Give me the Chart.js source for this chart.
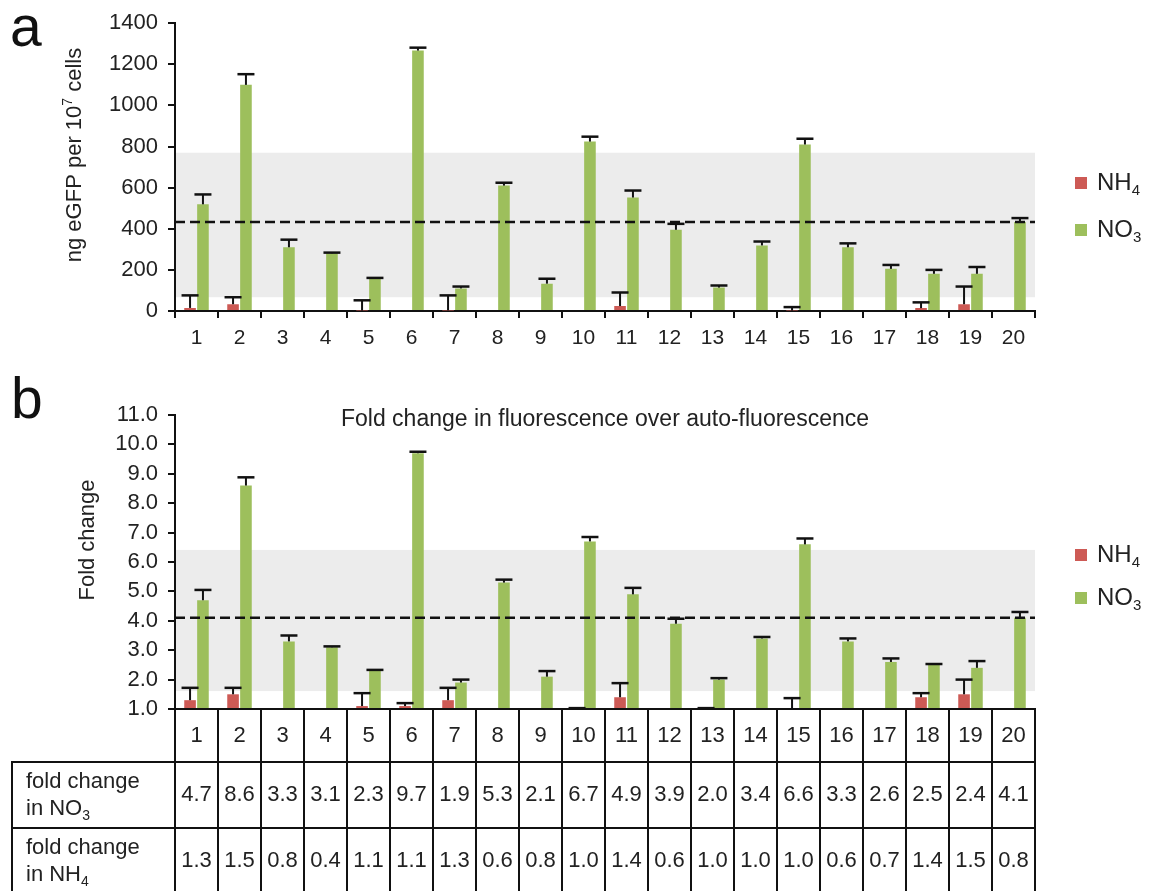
<!DOCTYPE html>
<html>
<head>
<meta charset="utf-8">
<script src="https://cdn.jsdelivr.net/npm/chart.js@4/dist/chart.umd.min.js"></script>
<style>
  html, body { margin: 0; padding: 0; background: #fff; }
  body { position: relative; width: 1151px; height: 891px; overflow: hidden;
         font-family: "Liberation Sans", Arial, sans-serif; }
  canvas { position: absolute; left: 0; }
  #chartA { top: 0; }
  #chartB { top: 365px; }
  .panel { position: absolute; font-size: 57px; line-height: 1; color: #111; }
</style>
</head>
<body>
<div class="panel" style="left:10px; top:-2px;">a</div>
<div class="panel" style="left:11px; top:370px;">b</div>
<canvas id="chartA" width="1151" height="365"></canvas>
<canvas id="chartB" width="1151" height="526"></canvas>

<script>
// ---- data ----
const strains = ['1','2','3','4','5','6','7','8','9','10','11','12','13','14','15','16','17','18','19','20'];

// (a) ng eGFP per 10^7 cells, mean and upper error
const eGFP_NH4     = [15, 33, 0, 0, 2, 0, 3, 0, 0, 0, 24, 0, 0, 0, 2, 0, 0, 14, 33, 0];
const eGFP_NH4_err = [61, 34, null, null, 50, null, 73, null, null, null, 66, null, null, null, 17, null, null, 28, 86, null];
const eGFP_NO3     = [519, 1100, 310, 281, 157, 1267, 110, 610, 133, 824, 552, 395, 114, 319, 810, 310, 205, 181, 181, 433];
const eGFP_NO3_err = [48, 52, 37, 3, 4, 14, 9, 14, 24, 24, 34, 29, 10, 19, 28, 19, 19, 19, 33, 19];
const eGFP_band = [67, 770];   // shaded range
const eGFP_mean = 433;         // dashed reference line

// (b) fold change in fluorescence over auto-fluorescence
const fold_NO3     = [4.7, 8.6, 3.3, 3.1, 2.3, 9.7, 1.9, 5.3, 2.1, 6.7, 4.9, 3.9, 2.0, 3.4, 6.6, 3.3, 2.6, 2.5, 2.4, 4.1];
const fold_NO3_err = [0.35, 0.28, 0.2, 0.03, 0.03, 0.05, 0.1, 0.1, 0.19, 0.15, 0.22, 0.17, 0.05, 0.05, 0.2, 0.1, 0.12, 0.03, 0.23, 0.2];
const fold_NH4     = [1.3, 1.5, 0.8, 0.4, 1.1, 1.1, 1.3, 0.6, 0.8, 1.0, 1.4, 0.6, 1.0, 1.0, 1.0, 0.6, 0.7, 1.4, 1.5, 0.8];
const fold_NH4_err = [0.42, 0.22, null, null, 0.44, 0.1, 0.42, null, null, 0.03, 0.48, null, 0.03, null, 0.37, null, null, 0.14, 0.5, null];
const fold_band = [1.61, 6.41];
const fold_mean = 4.1;

const seriesNames = ['NH4', 'NO3'];
const tableRowLabels = [['fold change', 'in NO3'], ['fold change', 'in NH4']];

// ---- styling ----
const FONT = '"Liberation Sans", Arial, sans-serif';
const RED = '#cd5a55';
const GREEN = '#9dbf5c';
const INK = '#111';
const TEXT = '#222';
const BAND = '#ececec';

Chart.defaults.font.family = FONT;
Chart.defaults.color = TEXT;

// text with a trailing subscript number (NH4, NO3)
function drawChem(ctx, text, x, y, size, align) {
  const m = text.match(/^(.*?)(\d+)$/);
  const base = m ? m[1] : text;
  const sub = m ? m[2] : '';
  const big = size + 'px ' + FONT;
  const small = Math.round(size * 0.62) + 'px ' + FONT;
  ctx.font = big;
  const wb = ctx.measureText(base).width;
  ctx.font = small;
  const ws = ctx.measureText(sub).width;
  const x0 = align === 'center' ? x - (wb + ws) / 2 : x;
  ctx.textAlign = 'left';
  ctx.textBaseline = 'middle';
  ctx.font = big;
  ctx.fillText(base, x0, y);
  if (sub) { ctx.font = small; ctx.fillText(sub, x0 + wb, y + size * 0.33); }
}

// shaded band behind the bars, dashed mean line in front
const bandPlugin = {
  id: 'refBand',
  beforeDatasetsDraw(chart, args, o) {
    const { ctx, chartArea: a, scales: { y } } = chart;
    const top = y.getPixelForValue(o.range[1]);
    const bot = y.getPixelForValue(o.range[0]);
    ctx.save();
    ctx.fillStyle = BAND;
    ctx.fillRect(a.left + 1, top, a.right - a.left - 1, bot - top);
    ctx.restore();
  },
  afterDatasetsDraw(chart, args, o) {
    const { ctx, chartArea: a, scales: { y } } = chart;
    const py = y.getPixelForValue(o.mean);
    ctx.save();
    ctx.strokeStyle = INK;
    ctx.lineWidth = 2.5;
    ctx.setLineDash([10, 5]);
    ctx.beginPath();
    ctx.moveTo(a.left, py);
    ctx.lineTo(a.right, py);
    ctx.stroke();
    ctx.restore();
  }
};

// upper error bars on top of each bar
const errorPlugin = {
  id: 'errorBars',
  afterDatasetsDraw(chart) {
    const { ctx, chartArea: a, scales: { y } } = chart;
    ctx.save();
    ctx.strokeStyle = INK;
    chart.data.datasets.forEach((ds, i) => {
      const meta = chart.getDatasetMeta(i);
      meta.data.forEach((bar, j) => {
        const e = ds.errorPlus ? ds.errorPlus[j] : null;
        const v = ds.data[j];
        if (e == null || v < y.min) return;
        const x = bar.x;
        const y0 = y.getPixelForValue(v);
        const y1 = y.getPixelForValue(v + e);
        ctx.lineWidth = 2;
        ctx.beginPath();
        ctx.moveTo(x, Math.min(y0, a.bottom));
        ctx.lineTo(x, y1);
        ctx.stroke();
        ctx.lineWidth = 2.5;
        ctx.beginPath();
        ctx.moveTo(x - 8.5, y1);
        ctx.lineTo(x + 8.5, y1);
        ctx.stroke();
      });
    });
    ctx.restore();
  }
};

// legend at the right of the plot
const sideLegendPlugin = {
  id: 'sideLegend',
  afterDraw(chart, args, o) {
    const { ctx } = chart;
    ctx.save();
    chart.data.datasets.forEach((ds, i) => {
      const cy = o.y[i];
      ctx.fillStyle = ds.backgroundColor;
      ctx.fillRect(o.x, cy - 6, 12, 12);
      ctx.fillStyle = TEXT;
      drawChem(ctx, ds.label, o.x + 22, cy, o.size, 'left');
    });
    ctx.restore();
  }
};

// rotated value-axis title
const yTitlePlugin = {
  id: 'yTitle',
  afterDraw(chart, args, o) {
    if (!o.parts) return;
    const { ctx } = chart;
    ctx.save();
    ctx.translate(o.x, o.y);
    ctx.rotate(-Math.PI / 2);
    ctx.fillStyle = TEXT;
    ctx.textBaseline = 'middle';
    ctx.textAlign = 'left';
    const big = o.size + 'px ' + FONT;
    const small = Math.round(o.size * 0.62) + 'px ' + FONT;
    let w = 0;
    o.parts.forEach(p => { ctx.font = p.sup ? small : big; w += ctx.measureText(p.t).width; });
    let cx = -w / 2;
    o.parts.forEach(p => {
      ctx.font = p.sup ? small : big;
      ctx.fillText(p.t, cx, p.sup ? -o.size * 0.3 : 0);
      cx += ctx.measureText(p.t).width;
    });
    ctx.restore();
  }
};

// title drawn over the top of the plot area
const innerTitlePlugin = {
  id: 'innerTitle',
  afterDraw(chart, args, o) {
    if (!o.text) return;
    const { ctx, chartArea: a } = chart;
    ctx.save();
    ctx.fillStyle = TEXT;
    ctx.font = o.size + 'px ' + FONT;
    ctx.textAlign = 'center';
    ctx.textBaseline = 'middle';
    ctx.fillText(o.text, (a.left + a.right) / 2, a.top + o.dy);
    ctx.restore();
  }
};

// value table under the category axis
const tablePlugin = {
  id: 'valueTable',
  afterDraw(chart, args, o) {
    if (!o.rows) return;
    const { ctx, chartArea: a, scales: { x } } = chart;
    const n = chart.data.labels.length;
    const step = n > 1 ? x.getPixelForValue(1) - x.getPixelForValue(0) : (a.right - a.left);
    const bounds = [];
    for (let k = 0; k <= n; k++) bounds.push(x.getPixelForValue(0) - step / 2 + k * step);
    const top = a.bottom;
    const rowTops = [top, top + o.heights[0], top + o.heights[0] + o.heights[1]];
    const bottom = chart.height + 4;
    ctx.save();
    ctx.strokeStyle = INK;
    ctx.lineWidth = 2;
    ctx.beginPath();
    bounds.forEach(bx => { ctx.moveTo(bx, top); ctx.lineTo(bx, bottom); });
    ctx.moveTo(o.labelLeft, rowTops[1]); ctx.lineTo(o.labelLeft, bottom);
    ctx.moveTo(bounds[0], top); ctx.lineTo(bounds[n], top);
    ctx.moveTo(o.labelLeft - 1, rowTops[1]); ctx.lineTo(bounds[n] + 1, rowTops[1]);
    ctx.moveTo(o.labelLeft - 1, rowTops[2]); ctx.lineTo(bounds[n] + 1, rowTops[2]);
    ctx.stroke();

    ctx.fillStyle = TEXT;
    ctx.textAlign = 'center';
    ctx.textBaseline = 'middle';
    const h0 = rowTops[0] + o.heights[0] / 2;
    chart.data.labels.forEach((lab, k) => {
      ctx.font = o.size + 'px ' + FONT;
      ctx.textAlign = 'center';
      ctx.fillText(lab, x.getPixelForValue(k), h0);
    });
    o.rows.forEach((row, r) => {
      const cy = rowTops[r + 1] + o.heights[r + 1] / 2;
      row.values.forEach((v, k) => {
        ctx.font = o.size + 'px ' + FONT;
        ctx.textAlign = 'center';
        ctx.fillText(v.toFixed(1), x.getPixelForValue(k), cy);
      });
      drawChem(ctx, row.label[0], o.labelLeft + 14, cy - 13, o.labelSize, 'left');
      drawChem(ctx, row.label[1], o.labelLeft + 14, cy + 14, o.labelSize, 'left');
    });
    ctx.restore();
  }
};

function axisStyle() {
  return { color: INK, width: 2 };
}

// ---- panel a ----
new Chart(document.getElementById('chartA'), {
  type: 'bar',
  data: {
    labels: strains,
    datasets: [
      { label: seriesNames[0], data: eGFP_NH4, errorPlus: eGFP_NH4_err, backgroundColor: RED, clip: 0 },
      { label: seriesNames[1], data: eGFP_NO3, errorPlus: eGFP_NO3_err, backgroundColor: GREEN, clip: 0 }
    ]
  },
  options: {
    responsive: false,
    animation: false,
    events: [],
    layout: { padding: { left: 0, right: 116, top: 17, bottom: 0 } },
    datasets: { bar: { categoryPercentage: 0.6, barPercentage: 0.9 } },
    plugins: {
      legend: { display: false },
      tooltip: { enabled: false },
      refBand: { range: eGFP_band, mean: eGFP_mean },
      sideLegend: { x: 1075, y: [183, 230], size: 24 },
      yTitle: { x: 75, y: 155, size: 22,
                parts: [{ t: 'ng eGFP per 10' }, { t: '7', sup: true }, { t: ' cells' }] }
    },
    scales: {
      x: {
        grid: { offset: true, drawOnChartArea: false, drawTicks: true, tickLength: 7, color: INK, lineWidth: 2 },
        border: axisStyle(),
        ticks: { color: TEXT, font: { size: 21 }, padding: 8, maxRotation: 0, autoSkip: false },
        afterFit(s) { s.height = 54; }
      },
      y: {
        min: 0, max: 1400,
        grid: { drawOnChartArea: false, drawTicks: true, tickLength: 7, color: INK, lineWidth: 2 },
        border: axisStyle(),
        ticks: { stepSize: 200, color: TEXT, font: { size: 22 }, padding: 10, callback: v => String(v) },
        afterFit(s) { s.width = 175; }
      }
    }
  },
  plugins: [bandPlugin, errorPlugin, sideLegendPlugin, yTitlePlugin]
});

// ---- panel b ----
new Chart(document.getElementById('chartB'), {
  type: 'bar',
  data: {
    labels: strains,
    datasets: [
      { label: seriesNames[0], data: fold_NH4, errorPlus: fold_NH4_err, backgroundColor: RED, clip: 0 },
      { label: seriesNames[1], data: fold_NO3, errorPlus: fold_NO3_err, backgroundColor: GREEN, clip: 0 }
    ]
  },
  options: {
    responsive: false,
    animation: false,
    events: [],
    layout: { padding: { left: 0, right: 116, top: 50, bottom: 0 } },
    datasets: { bar: { categoryPercentage: 0.6, barPercentage: 0.9 } },
    plugins: {
      legend: { display: false },
      tooltip: { enabled: false },
      refBand: { range: fold_band, mean: fold_mean },
      sideLegend: { x: 1075, y: [190, 233], size: 24 },
      yTitle: { x: 88, y: 175, size: 22, parts: [{ t: 'Fold change' }] },
      innerTitle: { text: 'Fold change in fluorescence over auto-fluorescence', size: 23, dy: 5 },
      valueTable: {
        heights: [53, 66, 66],
        labelLeft: 12,
        size: 22,
        labelSize: 22,
        rows: [
          { label: tableRowLabels[0], values: fold_NO3 },
          { label: tableRowLabels[1], values: fold_NH4 }
        ]
      }
    },
    scales: {
      x: {
        grid: { display: false },
        border: axisStyle(),
        ticks: { display: false },
        afterFit(s) { s.height = 182; }
      },
      y: {
        min: 1, max: 11,
        grid: { drawOnChartArea: false, drawTicks: true, tickLength: 7, color: INK, lineWidth: 2 },
        border: axisStyle(),
        ticks: { stepSize: 1, color: TEXT, font: { size: 22 }, padding: 10, callback: v => v.toFixed(1) },
        afterFit(s) { s.width = 175; }
      }
    }
  },
  plugins: [bandPlugin, errorPlugin, sideLegendPlugin, yTitlePlugin, innerTitlePlugin, tablePlugin]
});
</script>
</body>
</html>
